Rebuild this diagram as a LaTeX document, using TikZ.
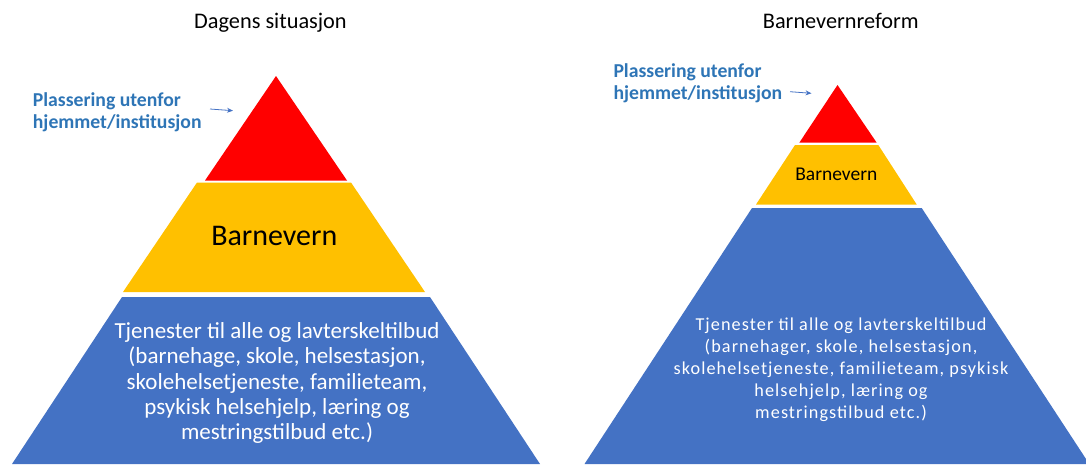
\documentclass[tikz,border=0pt]{standalone}
\usepackage{fontspec}
\setmainfont{Carlito}
\newfontfamily\spacedfont[LetterSpace=6]{Carlito}
\usetikzlibrary{arrows.meta}

\definecolor{topred}{HTML}{FF0000}
\definecolor{midyellow}{HTML}{FFC000}
\definecolor{basblue}{HTML}{4472C4}
\definecolor{labelblue}{HTML}{2E75B6}

\tikzset{
  title/.style={anchor=base, inner sep=0pt, text=black,
    font=\fontsize{22.3}{25}\selectfont},
  placelabel/.style={anchor=north west, inner sep=0pt, align=left,
    text=labelblue, font=\bfseries\fontsize{19.7}{22.4}\selectfont},
  pointer/.style={draw=basblue, line width=0.8pt,
    -{Stealth[length=6pt,width=5pt]}},
  basetext/.style={align=center, inner sep=0pt, text=white}
}

\begin{document}
\begin{tikzpicture}[x=1pt,y=-1pt]
  \useasboundingbox (0,0) rectangle (1086,464);

  % ---------- left pyramid: Dagens situasjon ----------
  \node[title] (titleL) at (270.5,28) {Dagens situasjon};

  \fill[topred] (276,76) -- (347,180.5) -- (205,180.5) -- cycle;
  \fill[midyellow] (197,182.5) -- (351,182.5) -- (425,292) -- (123,292) -- cycle;
  \fill[basblue] (122,297) -- (430,297) -- (540,464) -- (12,464) -- cycle;

  \node[anchor=base, inner sep=0pt, font=\fontsize{30}{32}\selectfont]
    (bvL) at (274.3,245) {Barnevern};

  \node[basetext, font=\fontsize{23}{25.3}\selectfont] (servL) at (277,383)
    {Tjenester til alle og lavterskeltilbud\\
     (barnehage, skole, helsestasjon,\\
     skolehelsetjeneste, familieteam,\\
     psykisk helsehjelp, læring og\\
     mestringstilbud etc.)};

  \node[placelabel] (labL) at (32.7,92) {Plassering utenfor\\hjemmet/institusjon};
  \coordinate (arrLs) at (210,109);
  \coordinate (arrLe) at (233,110.7);
  \draw[pointer] (arrLs) -- (arrLe);

  % ---------- right pyramid: Barnevernreform ----------
  \node[title] (titleR) at (840.8,28) {Barnevernreform};

  \fill[topred] (837.5,85) -- (876.7,142.7) -- (799.3,142.7) -- cycle;
  \fill[midyellow] (795,145) -- (878.3,145) -- (916.7,204.5) -- (756,204.5) -- cycle;
  \fill[basblue] (752,208) -- (921.7,208) -- (1089.3,464) -- (584.5,464) -- cycle;

  \node[anchor=base, inner sep=0pt, font=\fontsize{19.5}{22}\selectfont]
    (bvR) at (836.3,180) {Barnevern};

  \node[basetext, font=\spacedfont\fontsize{18.2}{21.9}\selectfont] (servR) at (841,369.5)
    {Tjenester til alle og lavterskeltilbud\\
     (barnehager, skole, helsestasjon,\\
     skolehelsetjeneste, familieteam, psykisk\\
     helsehjelp, læring og\\
     mestringstilbud etc.)};

  \node[placelabel] (labR) at (613.3,63.5) {Plassering utenfor\\hjemmet/institusjon};
  \coordinate (arrRs) at (790,91.7);
  \coordinate (arrRe) at (811.5,93.3);
  \draw[pointer] (arrRs) -- (arrRe);
\end{tikzpicture}
\end{document}
